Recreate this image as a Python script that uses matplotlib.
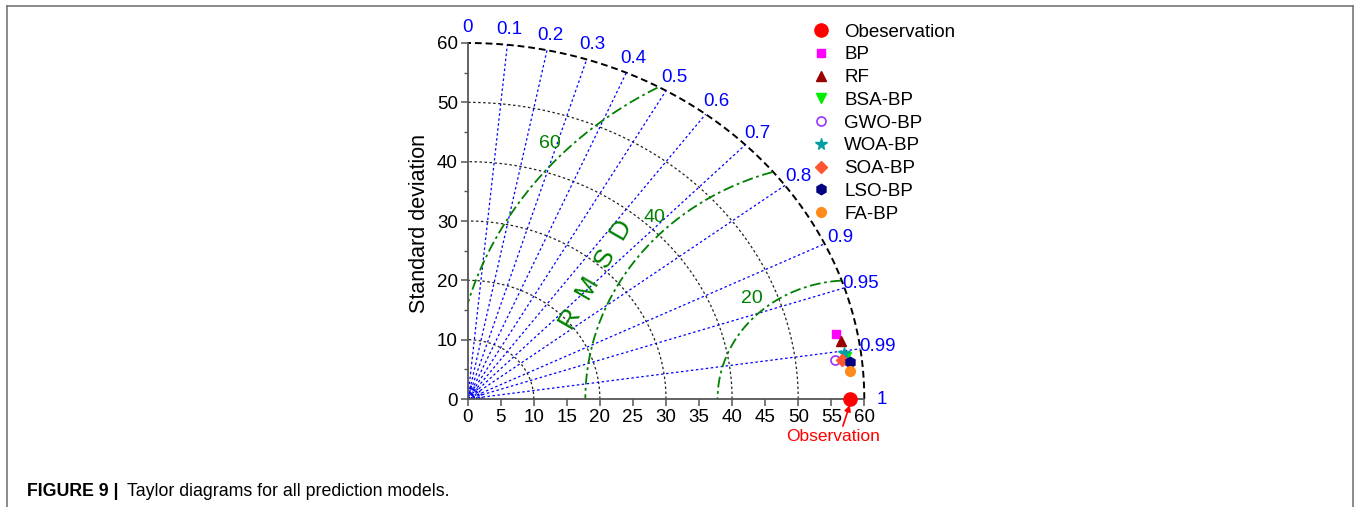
import numpy as np
import matplotlib
matplotlib.use('Agg')
import matplotlib.pyplot as plt
from matplotlib.lines import Line2D

plt.rcParams['font.family'] = ['Liberation Sans', 'DejaVu Sans']

# Taylor diagram data (standard deviation and correlation with observation)
obs_std = 57.8
models = ['BP', 'RF', 'BSA-BP', 'GWO-BP', 'WOA-BP', 'SOA-BP', 'LSO-BP', 'FA-BP']
model_std = [56.8, 57.3, 57.7, 55.9, 57.4, 57.0, 58.2, 58.0]
model_corr = [0.981, 0.9855, 0.9924, 0.993, 0.9908, 0.9933, 0.9943, 0.9966]
markers = ['s', '^', 'v', 'o', '*', 'D', 'h', 'o']
colors = ['#ff00ff', '#990000', '#00ee00', '#9933ff', '#009f9f', '#ff5533', '#000080', '#ff8a1a']
sizes = [6, 7, 7, 6.5, 8.5, 6, 7.5, 7]

std_ticks = [10, 20, 30, 40, 50, 60]
corr_lines = [0.1, 0.2, 0.3, 0.4, 0.5, 0.6, 0.7, 0.8, 0.9, 0.95, 0.99]
corr_labels = [0, 0.1, 0.2, 0.3, 0.4, 0.5, 0.6, 0.7, 0.8, 0.9, 0.95, 0.99, 1]
rmsd_levels = [20, 40, 60]
rmsd_label_angle = [131, 134, 136.5]  # degrees, around the observation point

max_std = 60

fig = plt.figure(figsize=(13.56, 5.07), dpi=100)
ax = fig.add_axes([0.3449, 0.2130, 0.2925, 0.7022])

theta = np.linspace(0, np.pi / 2, 300)

# standard deviation arcs
for r in std_ticks:
    if r == max_std:
        ax.plot(r * np.cos(theta), r * np.sin(theta), color='black', lw=1.4,
                linestyle=(0, (3.5, 2)), clip_on=False)
    else:
        ax.plot(r * np.cos(theta), r * np.sin(theta), color='#222222', lw=0.9,
                linestyle=(0, (2, 2)))

# small blue arcs at origin
for r in [0.6, 1.0, 1.4, 1.8, 2.2]:
    ax.plot(r * np.cos(theta), r * np.sin(theta), color='blue', lw=1.0,
            linestyle=(0, (1.5, 1)))

# correlation lines
for c in corr_lines:
    a = np.arccos(c)
    ax.plot([0, max_std * np.cos(a)], [0, max_std * np.sin(a)], color='blue',
            lw=0.9, linestyle=(0, (2, 2)))

for c in corr_labels:
    a = np.arccos(c)
    ax.text(62.6 * np.cos(a), 62.6 * np.sin(a), f'{c:g}', color='blue',
            fontsize=13.5, ha='center', va='center', clip_on=False)

# RMSD arcs around the observation point
phi = np.linspace(0, np.pi, 600)
for rr, la in zip(rmsd_levels, rmsd_label_angle):
    x = obs_std + rr * np.cos(phi)
    y = rr * np.sin(phi)
    keep = (x >= 0) & (x ** 2 + y ** 2 <= max_std ** 2)
    x = np.where(keep, x, np.nan)
    y = np.where(keep, y, np.nan)
    ax.plot(x, y, color='#008000', lw=1.3, linestyle=(0, (6, 2, 1.5, 2)))
    la = np.deg2rad(la)
    ax.text(obs_std + (rr + 2.5) * np.cos(la), (rr + 2.5) * np.sin(la), str(rr),
            color='#008000', fontsize=14, ha='center', va='center')

ax.text(19.5, 21.0, 'R  M  S  D', color='#008000', fontsize=19, rotation=60,
        ha='center', va='center', rotation_mode='anchor')

# observation and models
ax.plot([obs_std], [0], 'o', color='#ff0000', markersize=9.5, clip_on=False,
        zorder=5, label='Obeservation')
for name, s, c, m, col, ms in zip(models, model_std, model_corr, markers, colors, sizes):
    x = s * c
    y = s * np.sin(np.arccos(c))
    if name == 'GWO-BP':
        ax.plot([x], [y], m, markerfacecolor='none', markeredgecolor=col,
                markeredgewidth=1.2, markersize=ms, linestyle='none', label=name, zorder=4)
    else:
        ax.plot([x], [y], m, color=col, markersize=ms, linestyle='none',
                label=name, zorder=4)

ax.annotate('Observation', xy=(obs_std, -1.0), xytext=(55.2, -6.3),
            color='red', fontsize=12.5, ha='center', va='center',
            arrowprops=dict(arrowstyle='-|>', color='red', lw=1.2,
                            mutation_scale=9, shrinkA=0, shrinkB=0,
                            relpos=(0.6, 1.0)),
            annotation_clip=False)

# axes
ax.set_xlim(0, max_std)
ax.set_ylim(0, max_std)
ax.spines['top'].set_visible(False)
ax.spines['right'].set_visible(False)
for sp in ['left', 'bottom']:
    ax.spines[sp].set_color('#555555')
    ax.spines[sp].set_linewidth(1.3)
ax.set_xticks(np.arange(0, 61, 5))
ax.set_yticks(np.arange(0, 61, 10))
ax.set_yticks(np.arange(5, 60, 10), minor=True)
ax.tick_params(axis='both', which='major', direction='out', length=5,
               width=1.1, color='#555555', labelsize=13.5, pad=2)
ax.tick_params(axis='y', which='minor', direction='out', length=3,
               width=1.0, color='#555555')
ax.set_ylabel('Standard deviation', fontsize=15.5)
ax.yaxis.set_label_coords(-0.095, 0.494)

fig.legend(loc='upper left', bbox_to_anchor=(0.5914, 0.972), frameon=False,
           fontsize=13.5, handlelength=1.0, handletextpad=0.75, labelspacing=0.3,
           borderpad=0, numpoints=1)

# figure frame and caption
fig.add_artist(Line2D([0.0052, 0.9978], [0.988, 0.988], color='#777777', lw=1.2))
fig.add_artist(Line2D([0.0052, 0.0052], [0.0, 0.988], color='#777777', lw=1.2))
fig.add_artist(Line2D([0.9978, 0.9978], [0.0, 0.988], color='#777777', lw=1.2))

t1 = fig.text(27 / 1356, 1 - 496 / 507, 'FIGURE 9 |', fontsize=12.8,
              fontweight='bold', va='baseline')
fig.canvas.draw()
bb = t1.get_window_extent()
fig.text((bb.x1 + 9) / 1356, 1 - 496 / 507,
         'Taylor diagrams for all prediction models.', fontsize=12.8,
         va='baseline')

fig.savefig('out.png', dpi=100)
